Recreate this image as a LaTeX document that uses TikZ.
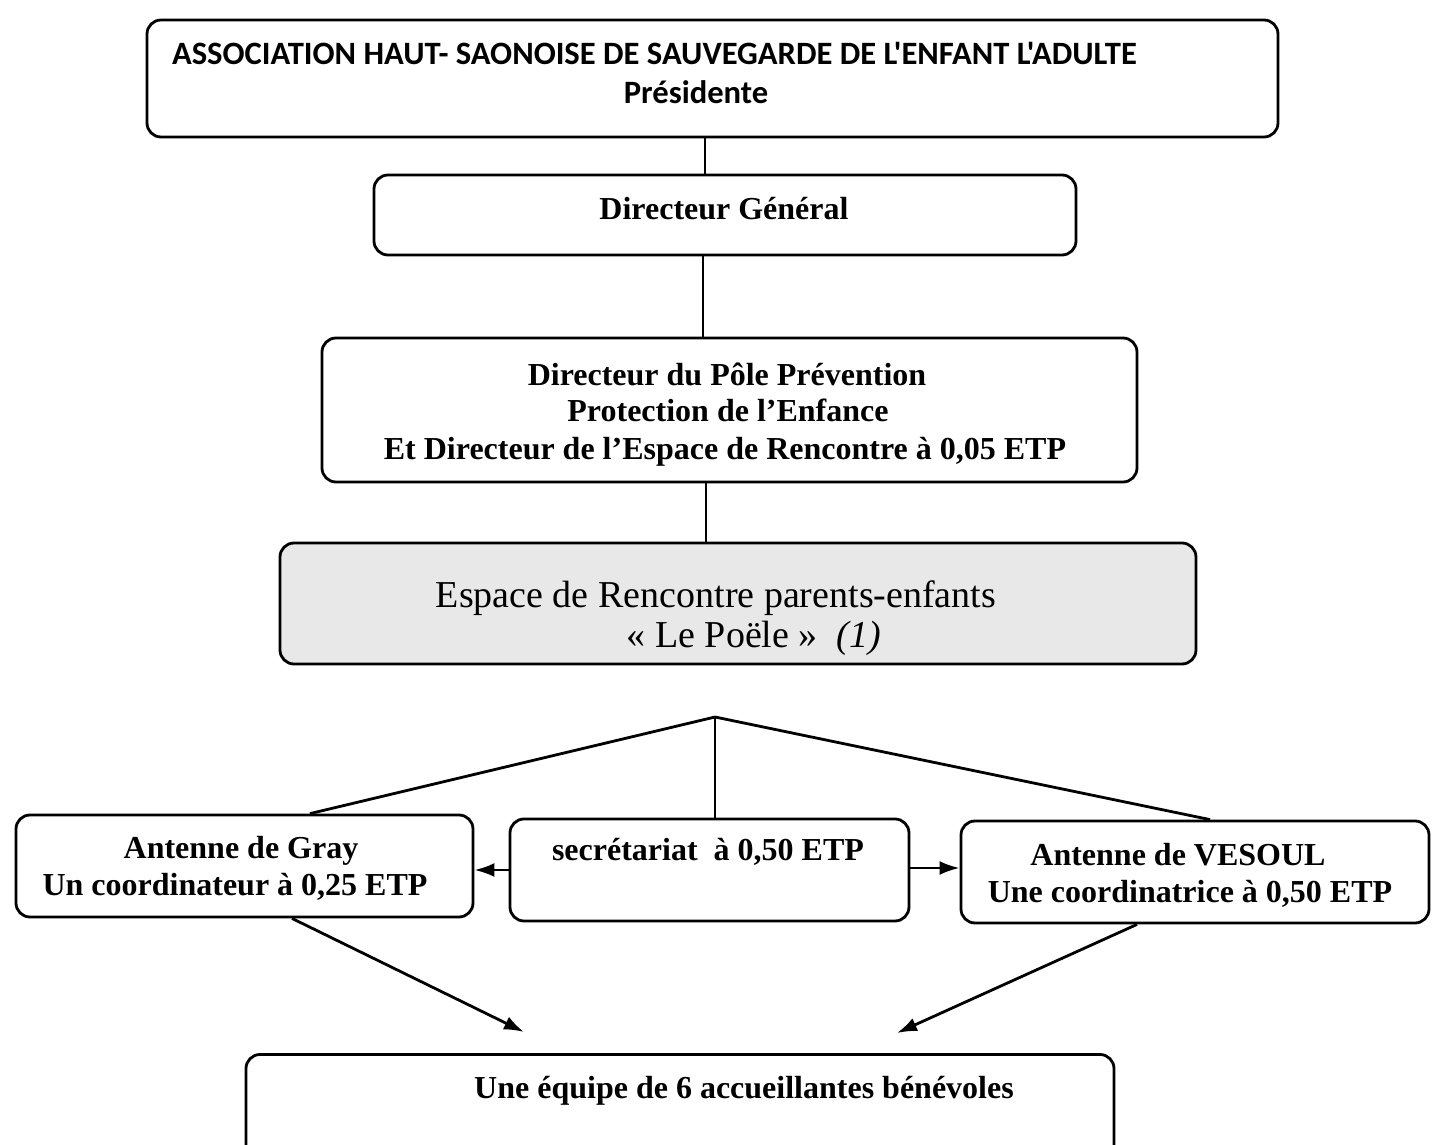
\documentclass[tikz,border=0pt]{standalone}
\usepackage{fontspec}
\setmainfont{Liberation Serif}
\newfontfamily\calibrifont{Carlito}
\usetikzlibrary{arrows.meta}

\begin{document}
\begin{tikzpicture}[x=0.5pt,y=-0.5pt,
    box/.style={draw,line width=1.4pt,rounded corners=7pt,inner sep=0pt},
    txt/.style={anchor=base,inner sep=0pt,font=\fontsize{16}{18}\selectfont\bfseries},
    big/.style={anchor=base,inner sep=0pt,font=\fontsize{19}{22}\selectfont},
    link/.style={line width=1.4pt},
    arr/.style={line width=1.4pt,-{Latex[length=10pt,width=7pt]}}]
  \useasboundingbox (0,0) rectangle (1432,1145);
  % boxes
  \draw
    (712.5,78.5) node[box,minimum width=565.5pt,minimum height=58.5pt] (0){}
    (725,215) node[box,minimum width=351pt,minimum height=40pt] (1){}
    (729.5,410) node[box,minimum width=407.5pt,minimum height=72pt] (2){}
    (738,603.5) node[box,fill=gray!18,minimum width=458pt,minimum height=60.5pt] (3){}
    (244.5,866) node[box,minimum width=228.5pt,minimum height=51pt] (4){}
    (709.5,870) node[box,minimum width=199.5pt,minimum height=51pt] (5){}
    (1195,872) node[box,minimum width=234pt,minimum height=51pt] (6){}
    (680,1112) node[box,minimum width=434pt,minimum height=57.5pt] (7){};
  % texts
  \draw
    (654.5,65) node[txt,font=\fontsize{16.3}{18}\calibrifont\bfseries] (0a){ASSOCIATION HAUT- SAONOISE DE SAUVEGARDE DE L'ENFANT L'ADULTE}
    (696,104) node[txt,font=\fontsize{16.3}{18}\calibrifont\bfseries] (0b){Présidente}
    (724,220) node[txt] (1a){Directeur Général}
    (727,386) node[txt] (2a){Directeur du Pôle Prévention}
    (728,422) node[txt] (2b){Protection de l’Enfance}
    (725,459) node[txt] (2c){Et Directeur de l’Espace de Rencontre à 0,05 ETP}
    (716,607) node[big] (3a){Espace de Rencontre parents-enfants}
    (754,647) node[big] (3b){« Le Poële »\ \ \textit{(1)}}
    (241,858) node[txt] (4a){Antenne de Gray}
    (235,895) node[txt] (4b){Un coordinateur à 0,25 ETP}
    (708,860) node[txt] (5a){secrétariat\ \ à 0,50 ETP}
    (1178,865) node[txt] (6a){Antenne de VESOUL}
    (1190,902) node[txt] (6b){Une coordinatrice à 0,50 ETP}
    (744,1098) node[txt] (7a){Une équipe de 6 accueillantes bénévoles};
  \coordinate (apex) at (715,717);
  \coordinate (gray) at (524,1032);
  \coordinate (vesoul) at (897,1033);
  \begin{scope}[link]
    \draw[line width=1pt] ([xshift=-3.75pt]0.south) to ([xshift=-10pt]1.north);
    \draw[line width=1pt] ([xshift=-11pt]1.south) to ([xshift=-13.25pt]2.north);
    \draw[line width=1pt] ([xshift=-11.75pt]2.south) to ([xshift=-16pt]3.north);
    \draw (apex) to ([xshift=32.75pt]4.north);
    \draw[line width=0.7pt] (apex) to ([xshift=2.75pt]5.north);
    \draw (apex) to ([xshift=7.5pt]6.north);
  \end{scope}
  \begin{scope}[arr]
    \draw (5.west) to ([yshift=-2pt]4.east);
    \draw ([yshift=1pt]5.east) to ([yshift=2pt]6.west);
    \draw ([xshift=23.75pt]4.south) to (gray);
    \draw ([xshift=-29pt]6.south) to (vesoul);
  \end{scope}
\end{tikzpicture}
\end{document}
